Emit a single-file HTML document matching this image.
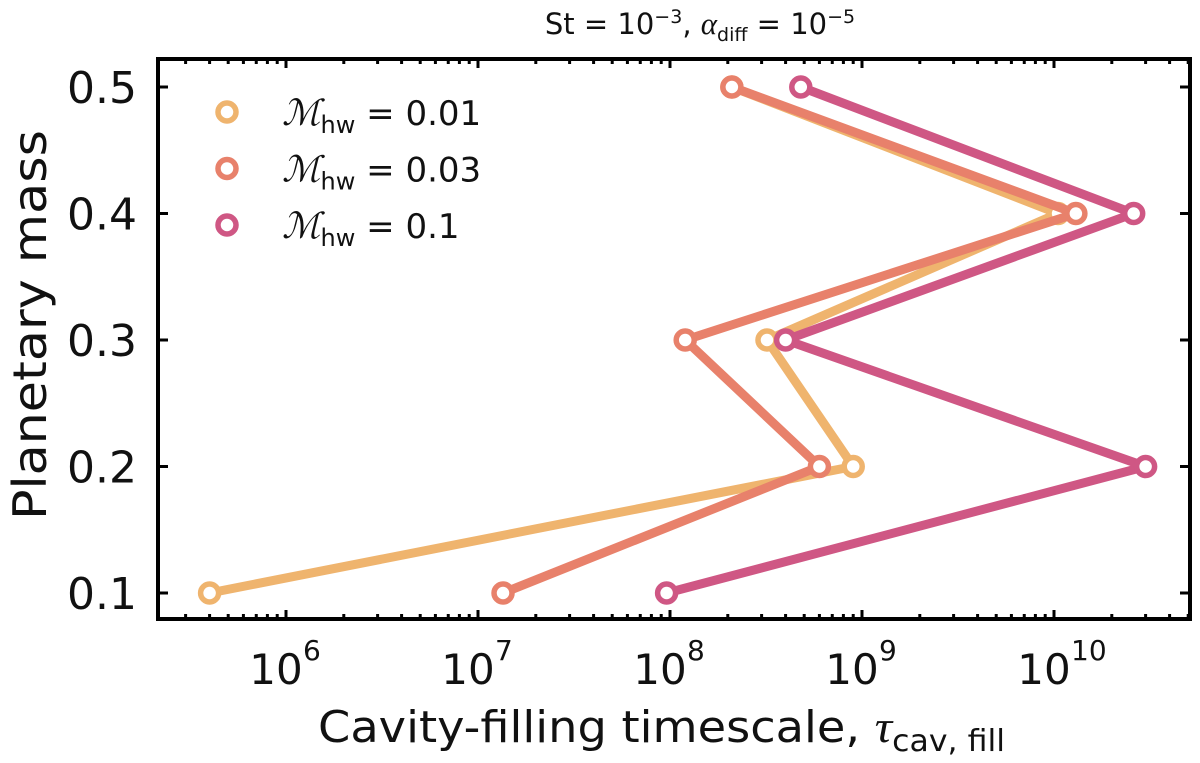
<!DOCTYPE html>
<html><head><meta charset="utf-8"><style>
body{margin:0;background:#fff;}
svg text{font-family:"DejaVu Sans","Liberation Sans",sans-serif;fill:#111;}
</style></head><body>
<svg id="chart" width="1200" height="758" xmlns="http://www.w3.org/2000/svg">
</svg>
<script>
const masses = [0.1, 0.2, 0.3, 0.4, 0.5];
const seriesLabels = ["0.01", "0.03", "0.1"];
const tauLow = [4.0e5, 9.0e8, 3.2e8, 1.05e10, 2.1e8];
const tauMid = [1.35e7, 6.0e8, 1.2e8, 1.3e10, 2.1e8];
const tauHigh = [9.6e7, 3.0e10, 4.0e8, 2.6e10, 4.8e8];
const xTickExps = [6, 7, 8, 9, 10];
const yTicks = [0.1, 0.2, 0.3, 0.4, 0.5];

const NS = "http://www.w3.org/2000/svg";
const svg = document.getElementById('chart');
const L = 158, R = 1190, T = 59, B = 619;
const xDecade = 192, x8 = 670;
function xs(v){ return x8 + (Math.log10(v) - 8) * xDecade; }
function ys(m){ return 87 + (0.5 - m) / 0.1 * 126.5; }
function mk(tag, attrs, parent){
  const e = document.createElementNS(NS, tag);
  for (const k in attrs) e.setAttribute(k, attrs[k]);
  (parent || svg).appendChild(e);
  return e;
}
const colors = ["#efb46e", "#e8816b", "#cf5784"];
const series = [tauLow, tauMid, tauHigh];

const ticks = mk('g', {});


for (let d = 5; d <= 10; d++) {
  for (let k = 1; k <= 9; k++) {
    const x = xs(k * Math.pow(10, d));
    if (x < L || x > R) continue;
    const len = k === 1 ? 9 : 5;
    mk('line', {x1:x, x2:x, y1:B, y2:B-len, stroke:'#000', 'stroke-width':3}, ticks);
    mk('line', {x1:x, x2:x, y1:T, y2:T+len, stroke:'#000', 'stroke-width':3}, ticks);
  }
}
yTicks.forEach(m => {
  const y = ys(m);
  mk('line', {x1:L, x2:L+10, y1:y, y2:y, stroke:'#000', 'stroke-width':3}, ticks);
  mk('line', {x1:R, x2:R-10, y1:y, y2:y, stroke:'#000', 'stroke-width':3}, ticks);
  const t = mk('text', {x:137, y:y+16, 'text-anchor':'end', 'font-size':44});
  t.textContent = m.toFixed(1);
  
  
});
xTickExps.forEach(e => {
  const x = xs(Math.pow(10, e));
  const t = mk('text', {x:x-10, y:684, 'text-anchor':'middle', 'font-size':42});
  t.textContent = '10';
  
  
  const s = mk('text', {x:x+17, y:660, 'text-anchor':'start', 'font-size':28});
  s.textContent = String(e);
  
  
});

series.forEach((vals, i) => {
  const g = mk('g', {});
  
  
  const pts = vals.map((v, j) => xs(v) + ',' + ys(masses[j])).join(' ');
  const pl = mk('polyline', {points:pts, fill:'none', stroke:colors[i], 'stroke-width':9, 'stroke-linejoin':'round'}, g);
  
  
  vals.forEach((v, j) => {
    const c = mk('circle', {cx:xs(v), cy:ys(masses[j]), r:9, fill:'#fff', stroke:colors[i], 'stroke-width':5.5}, g);
    
    
  });
});

const fr = mk('rect', {x:L, y:T, width:R-L, height:B-T, fill:'none', stroke:'#000', 'stroke-width':4});



const lg = mk('g', {});


seriesLabels.forEach((lab, i) => {
  const y = 112 + i * 56.5;
  const c = mk('circle', {cx:227, cy:y, r:9, fill:'#fff', stroke:colors[i], 'stroke-width':5.5}, lg);
  
  
  const t = mk('text', {x:282, y:y+13, 'font-size':34}, lg);
  
  
  t.innerHTML = '<tspan font-family="Liberation Serif,serif" font-style="italic" font-size="36">ℳ</tspan><tspan font-size="24" dy="8">hw</tspan><tspan dy="-8"> = ' + lab + '</tspan>';
});
</script>
<svg width="1200" height="758" style="position:absolute;left:0;top:0" xmlns="http://www.w3.org/2000/svg">
<text x="700" y="34" text-anchor="middle" font-size="29">St = 10<tspan font-size="19" dy="-11">−3</tspan><tspan dy="11">,  </tspan><tspan font-family="Liberation Serif,serif" font-style="italic" font-size="31">α</tspan><tspan font-size="19" dy="7">diff</tspan><tspan dy="-7"> = 10</tspan><tspan font-size="19" dy="-11">−5</tspan></text>
<text x="318" y="742" font-size="44" textLength="687" lengthAdjust="spacingAndGlyphs">Cavity-filling timescale, <tspan font-family="Liberation Serif,serif" font-style="italic" font-size="46">τ</tspan><tspan font-size="30" dy="9">cav, fill</tspan></text>
<text transform="translate(46,520) rotate(-90)" font-size="46" textLength="390" lengthAdjust="spacingAndGlyphs">Planetary mass</text>
</svg>
</body></html>
